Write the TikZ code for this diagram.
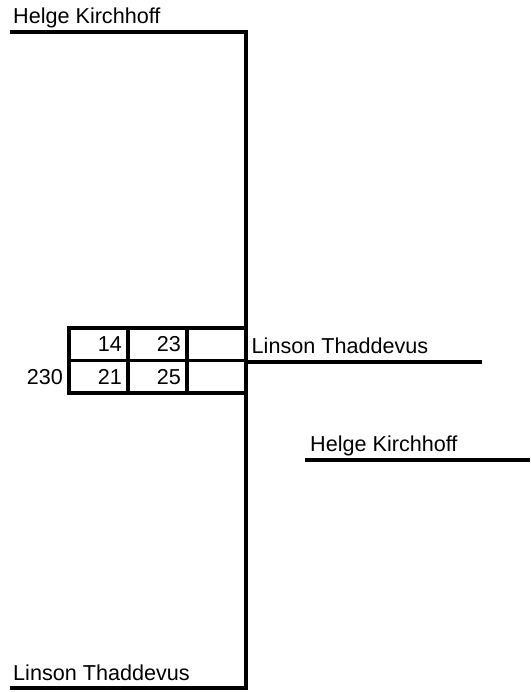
\documentclass[tikz,border=0pt]{standalone}
\usepackage{fontspec}
\setmainfont{Liberation Sans}
\usetikzlibrary{positioning}
\begin{document}
\begin{tikzpicture}[
  x=1pt, y=1pt, font=\fontsize{21.6}{25}\selectfont, node distance=0pt,
  cell/.style={draw, line width=3.2pt, minimum width=59pt, minimum height=32.5pt,
               inner sep=0pt, outer sep=0pt, text width=47pt, align=right},
  player/.style={anchor=base west, inner sep=0pt},
  bar/.style={line width=3.2pt}]
\useasboundingbox (0,0) rectangle (530,692);
\coordinate (tl) at (10,660);
\coordinate (tr) at (246,660);
\coordinate (bl) at (10,4);
\coordinate (br) at (246,4);
\coordinate (ml) at (246,330);
\coordinate (mr) at (482,330);
\coordinate (ll) at (305,232);
\coordinate (lr) at (530,232);
\node[cell] (c11) at (98.5,347.75) {14};
\node[cell, right=of c11] (c12) {23};
\node[cell, right=of c12] (c13) {};
\node[cell, below=of c11] (c21) {21};
\node[cell, right=of c21] (c22) {25};
\node[cell, right=of c22] (c23) {};
\node[inner sep=0pt, left=6pt of c21] (seed) {230};
\node[player, xshift=3pt, yshift=8pt] (hk1) at (tl) {Helge Kirchhoff};
\node[player, xshift=3pt, yshift=8pt] (lt1) at (bl) {Linson Thaddevus};
\node[player, xshift=5.5pt, yshift=8pt] (lt2) at (ml) {Linson Thaddevus};
\node[player, xshift=5pt, yshift=8pt] (hk2) at (ll) {Helge Kirchhoff};
\draw[bar] (tl) -- (tr) -- (br) -- (bl);
\draw[bar] (ml) -- (mr);
\draw[bar] (ll) -- (lr);
\end{tikzpicture}
\end{document}
